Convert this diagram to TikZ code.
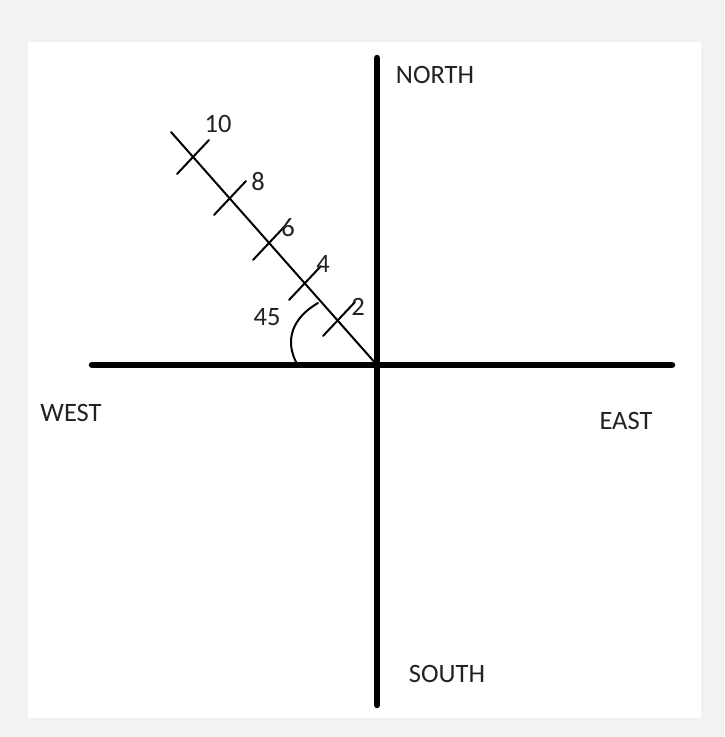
\documentclass[tikz,border=0pt]{standalone}
\usepackage{fontspec}
\setmainfont{Carlito}
\definecolor{framegray}{HTML}{F2F2F2}
\definecolor{inkdark}{HTML}{222222}
\begin{document}
\begin{tikzpicture}[x=1pt, y=-1pt,
    axis/.style={line width=6.5pt, line cap=round},
    thinline/.style={line width=2pt, line cap=round},
    lbl/.style={inner sep=0pt, text=inkdark, font=\fontsize{26.5}{30}\selectfont}]
    % 1. Fondo y marco
    \fill[framegray] (0,0) rectangle (724,737);
    \useasboundingbox (0,0) rectangle (724,737);
    \fill[white] (28,42) rectangle (701,718);

    % 2. Ejes
    \coordinate (O) at (377,365);
    \coordinate (northend) at (377,58);
    \coordinate (southend) at (377,705);
    \coordinate (westend) at (92,365);
    \coordinate (eastend) at (672,365);
    \draw[axis] (northend) -- (southend);
    \draw[axis] (westend) -- (eastend);

    % 3. Linea inclinada con marcas
    \coordinate (tip) at (171,132);
    \draw[thinline] (O) -- (tip);
    \draw[thinline] (338,320) ++(-15,16) -- ++(32,-34);
    \draw[thinline] (304,284) ++(-15,16) -- ++(32,-34);
    \draw[thinline] (268,244) ++(-15,16) -- ++(32,-34);
    \draw[thinline] (229,199) ++(-15,16) -- ++(32,-34);
    \draw[thinline] (192,158) ++(-15,16) -- ++(32,-34);

    % Angulo
    \draw[thinline] (318,303) .. controls (292,318) and (285,340) .. (296,362);

    % 4. Etiquetas
    \node[lbl] (north) at (435,75) {NORTH};
    \node[lbl] (south) at (447,674) {SOUTH};
    \node[lbl] (west) at (71,413) {WEST};
    \node[lbl] (east) at (626,421) {EAST};
    \node[lbl] (ten) at (218,124) {10};
    \node[lbl] (eight) at (258,182) {8};
    \node[lbl] (six) at (288,228) {6};
    \node[lbl] (four) at (323,264) {4};
    \node[lbl] (two) at (358,307) {2};
    \node[lbl] (angle) at (267,317) {45};
\end{tikzpicture}
\end{document}
